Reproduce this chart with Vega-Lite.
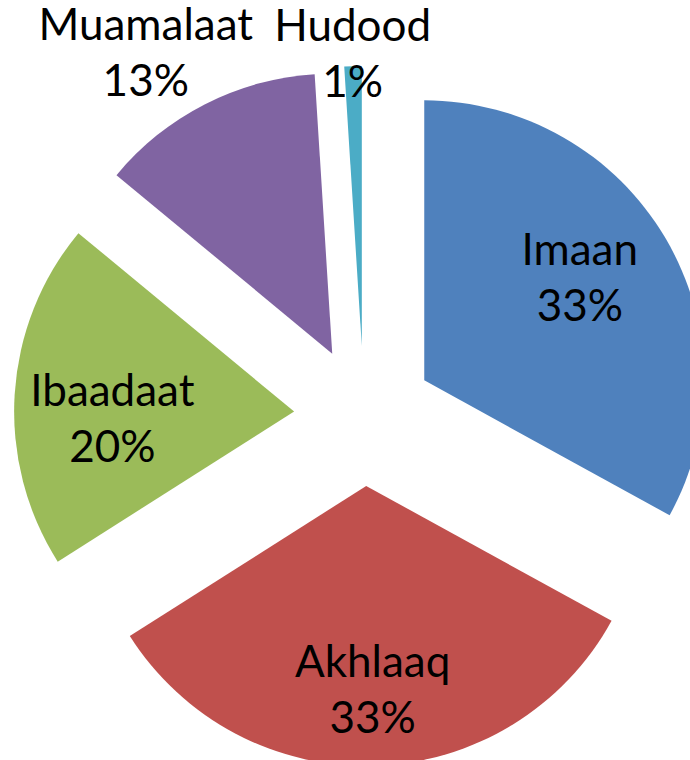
{
  "$schema": "https://vega.github.io/schema/vega-lite/v6.json",
  "width": 652,
  "height": 688,
  "autosize": "none",
  "padding": {"left": 38, "top": 72, "right": 0, "bottom": 0},
  "background": "white",
  "view": {"stroke": null},
  "data": {"values": [
    {"cat": "Imaan", "value": 33},
    {"cat": "Akhlaaq", "value": 33},
    {"cat": "Ibaadaat", "value": 20},
    {"cat": "Muamalaat", "value": 13},
    {"cat": "Hudood", "value": 1}
  ]},
  "transform": [
    {"stack": "value", "groupby": [], "as": ["v0", "v1"]},
    {"calculate": "datum.cat + '\\n' + datum.value + '%'", "as": "label"}
  ],
  "layer": [
    {
      "mark": {
        "type": "arc",
        "radius": 280,
        "strokeWidth": 0,
        "xOffset": {"expr": "70*sin(PI*(datum.v0+datum.v1)/100)"},
        "yOffset": {"expr": "-70*cos(PI*(datum.v0+datum.v1)/100)"}
      },
      "encoding": {
        "theta": {"field": "v0", "type": "quantitative", "scale": {"domain": [0, 100]}},
        "theta2": {"field": "v1"},
        "color": {
          "field": "cat",
          "type": "nominal",
          "scale": {
            "domain": ["Imaan", "Akhlaaq", "Ibaadaat", "Muamalaat", "Hudood"],
            "range": ["#4F81BD", "#C0504D", "#9BBB59", "#8064A2", "#4BACC6"]
          },
          "legend": null
        }
      }
    },
    {
      "transform": [{"filter": "datum.cat == 'Imaan'"}],
      "mark": {
        "type": "text", "radius": 185,
        "theta": {"expr": "PI*(datum.v0+datum.v1)/100 - 0.038"},
        "xOffset": {"expr": "70*sin(PI*(datum.v0+datum.v1)/100)"},
        "yOffset": {"expr": "-70*cos(PI*(datum.v0+datum.v1)/100)"},
        "dy": -28, "font": "Lato", "fontSize": 44, "lineHeight": 56, "lineBreak": "\n",
        "align": "center", "baseline": "middle", "color": "black"
      },
      "encoding": {"text": {"field": "label", "type": "nominal"}}
    },
    {
      "transform": [{"filter": "datum.cat == 'Akhlaaq'"}],
      "mark": {
        "type": "text", "radius": 206,
        "theta": {"expr": "PI*(datum.v0+datum.v1)/100"},
        "xOffset": {"expr": "70*sin(PI*(datum.v0+datum.v1)/100)"},
        "yOffset": {"expr": "-70*cos(PI*(datum.v0+datum.v1)/100)"},
        "dy": -28, "font": "Lato", "fontSize": 44, "lineHeight": 56, "lineBreak": "\n",
        "align": "center", "baseline": "middle", "color": "black"
      },
      "encoding": {"text": {"field": "label", "type": "nominal"}}
    },
    {
      "transform": [{"filter": "datum.cat == 'Ibaadaat'"}],
      "mark": {
        "type": "text", "radius": 182,
        "theta": {"expr": "PI*(datum.v0+datum.v1)/100 - 0.112"},
        "xOffset": {"expr": "70*sin(PI*(datum.v0+datum.v1)/100)"},
        "yOffset": {"expr": "-70*cos(PI*(datum.v0+datum.v1)/100)"},
        "dy": -28, "font": "Lato", "fontSize": 44, "lineHeight": 56, "lineBreak": "\n",
        "align": "center", "baseline": "middle", "color": "black"
      },
      "encoding": {"text": {"field": "label", "type": "nominal"}}
    },
    {
      "transform": [{"filter": "datum.cat == 'Muamalaat'"}],
      "mark": {
        "type": "text", "radius": 352,
        "theta": {"expr": "PI*(datum.v0+datum.v1)/100 - 0.087"},
        "xOffset": {"expr": "70*sin(PI*(datum.v0+datum.v1)/100)"},
        "yOffset": {"expr": "-70*cos(PI*(datum.v0+datum.v1)/100)"},
        "dy": -28, "font": "Lato", "fontSize": 44, "lineHeight": 56, "lineBreak": "\n",
        "align": "center", "baseline": "middle", "color": "black"
      },
      "encoding": {"text": {"field": "label", "type": "nominal"}}
    },
    {
      "transform": [{"filter": "datum.cat == 'Hudood'"}],
      "mark": {
        "type": "text", "radius": 290,
        "theta": {"expr": "PI*(datum.v0+datum.v1)/100"},
        "xOffset": {"expr": "70*sin(PI*(datum.v0+datum.v1)/100)"},
        "yOffset": {"expr": "-70*cos(PI*(datum.v0+datum.v1)/100)"},
        "dy": -28, "font": "Lato", "fontSize": 44, "lineHeight": 56, "lineBreak": "\n",
        "align": "center", "baseline": "middle", "color": "black"
      },
      "encoding": {"text": {"field": "label", "type": "nominal"}}
    }
  ]
}
